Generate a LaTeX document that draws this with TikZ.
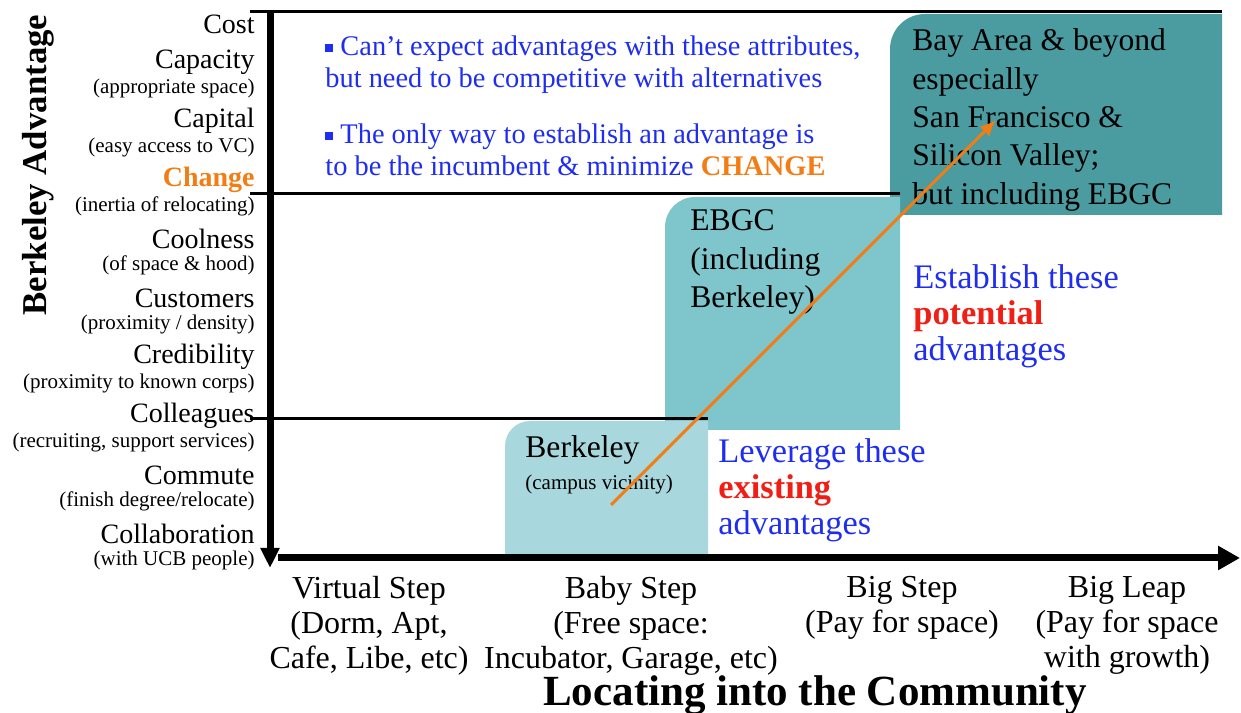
\documentclass[tikz,border=0pt]{standalone}
\usepackage{fontspec}
\setmainfont{Liberation Serif}
\usetikzlibrary{arrows.meta}
\tikzset{>={Latex[width=7pt,length=8pt]}}
\definecolor{berkfill}{RGB}{168,216,221}
\definecolor{ebgcfill}{RGB}{127,197,204}
\definecolor{bayfill}{RGB}{74,156,161}
\definecolor{chorange}{RGB}{242,125,20}
\definecolor{txtblue}{RGB}{30,45,240}
\definecolor{txtred}{RGB}{240,30,20}

\begin{document}
\begin{tikzpicture}[
    x = 0.5pt, y = 0.5pt,
    axis/.style = {line width=3.5pt, -{Triangle[width=9pt,length=10pt]}},
    stair/.style = {line width=1.5pt},
    lab/.style = {anchor=east, inner sep=0pt, font=\fontsize{14}{16}\selectfont},
    sublab/.style = {anchor=east, inner sep=0pt, font=\fontsize{10.5}{12}\selectfont},
    place/.style = {anchor=west, align=left, inner sep=0pt, font=\fontsize{15.8}{19.2}\selectfont},
    note/.style = {anchor=west, align=left, inner sep=0pt, text=txtblue, font=\fontsize{14.2}{16}\selectfont},
    claim/.style = {anchor=west, align=left, inner sep=0pt, text=txtblue, font=\fontsize{17.2}{18}\selectfont},
    stage/.style = {anchor=north, align=center, inner sep=0pt, font=\fontsize{16}{17.5}\selectfont}
  ]
  \useasboundingbox (0,0) rectangle (1241,712);

  \fill[bayfill] (890,497) -- (890,663) arc[start angle=180, end angle=90, radius=35] -- (1222,698) -- (1222,497) -- cycle;
  \fill[ebgcfill] (665,282) -- (665,485) arc[start angle=180, end angle=90, radius=30] -- (900,515) -- (900,282) -- cycle;
  \fill[berkfill] (505,157) -- (505,266) arc[start angle=180, end angle=90, radius=25] -- (708,291) -- (708,157) -- cycle;

  \draw[stair] (250,700) -- (1222,700);
  \draw[stair] (250,518) -- (900,518);
  \draw[stair] (250,293) -- (708,293);

  \coordinate (ytop) at (270,700);
  \coordinate (ytip) at (270,144);
  \coordinate (xstart) at (278,154);
  \coordinate (xtip) at (1240,154);
  \draw[axis] (ytop) -- (ytip);
  \draw[axis, -{Triangle[width=11.5pt,length=11pt]}] (xstart) -- (xtip);

  \node[lab] (cost) at (255,688) {Cost};
  \foreach \name/\hint [count=\i from 0] in {Capacity/appropriate space, Capital/easy access to VC,
      {\textcolor{chorange}{\bfseries Change}}/inertia of relocating, Coolness/of space \& hood,
      Customers/{proximity / density}, Credibility/proximity to known corps,
      Colleagues/{recruiting, support services}, Commute/{finish degree/relocate},
      Collaboration/with UCB people}
  {
    \node[lab] (lab\i) at (255,650-59*\i) {\name};
    \node[sublab] (sub\i) at (255,624-59*\i) {(\hint)};
  }
  \node[rotate=90, font=\fontsize{17.4}{20}\selectfont\bfseries] (ytitle) at (38,547) {Berkeley Advantage};

  \node[note] (note1) at (325,647) {\rule[0.12em]{0.28em}{0.28em} Can’t expect advantages with these attributes,\\but need to be competitive with alternatives};
  \node[note] (note2) at (325,562) {\rule[0.12em]{0.28em}{0.28em} The only way to establish an advantage is\\to be the incumbent \& minimize \textcolor{chorange}{\bfseries CHANGE}};

  \node[place] (bay) at (912,592) {Bay Area \& beyond\\especially\\San Francisco \&\\Silicon Valley;\\but including EBGC};
  \node[place] (ebgc) at (690,450) {EBGC\\(including\\Berkeley)};
  \node[place] (berk) at (525,247) {Berkeley\\[-3pt]{\fontsize{10.5}{12}\selectfont (campus vicinity)}};

  \node[claim] (potential) at (913,396) {Establish these\\\textcolor{txtred}{\bfseries potential}\\advantages};
  \node[claim] (existing) at (718,222) {Leverage these\\\textcolor{txtred}{\bfseries existing}\\advantages};

  \coordinate (from) at (611,207);
  \coordinate (to) at (996,592);
  \draw[chorange, line width=1.5pt, ->] (from) -- (to);

  \node[stage] (virtual) at (369,136) {Virtual Step\\(Dorm, Apt,\\Cafe, Libe, etc)};
  \node[stage] (baby) at (631,136) {Baby Step\\(Free space:\\Incubator, Garage, etc)};
  \node[stage] (big) at (902,136) {Big Step\\(Pay for space)};
  \node[stage] (leap) at (1127,136) {Big Leap\\(Pay for space\\with growth)};
  \node[anchor=base, font=\fontsize{21.5}{24}\selectfont\bfseries] (xtitle) at (815,7) {Locating into the Community};
\end{tikzpicture}
\end{document}
